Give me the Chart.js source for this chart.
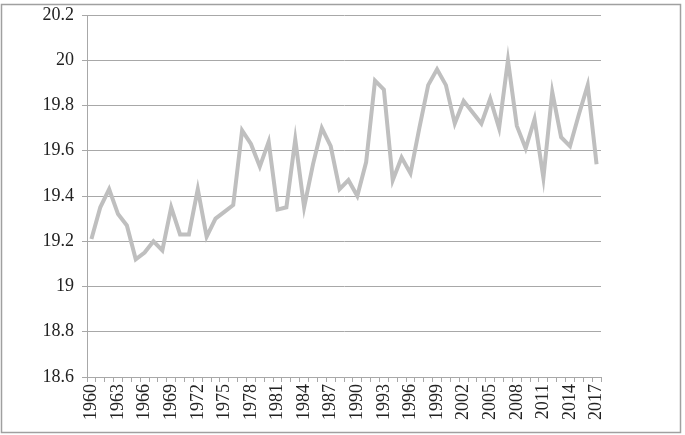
<!DOCTYPE html>
<html>
<head>
<meta charset="utf-8">
<script src="https://cdn.jsdelivr.net/npm/chart.js@4"></script>
<style>
  html, body { margin: 0; padding: 0; background: #fff; }
  #wrap { width: 685px; height: 435px; position: relative; }
</style>
</head>
<body>
<div id="wrap"><canvas id="myChart" width="685" height="435"></canvas></div>
<script>
  // years 1960..2017
  const years = [];
  for (let y = 1960; y <= 2017; y++) years.push(String(y));

  const values = [
    19.21, 19.35, 19.43, 19.32, 19.27, 19.12, 19.15, 19.20, 19.16, 19.35,
    19.23, 19.23, 19.43, 19.22, 19.30, 19.33, 19.36, 19.69, 19.63, 19.53,
    19.64, 19.34, 19.35, 19.65, 19.35, 19.54, 19.70, 19.62, 19.43, 19.47,
    19.40, 19.55, 19.91, 19.87, 19.47, 19.57, 19.50, 19.70, 19.89, 19.96,
    19.89, 19.72, 19.82, 19.77, 19.72, 19.83, 19.70, 20.00, 19.71, 19.61,
    19.74, 19.48, 19.86, 19.66, 19.62, 19.76, 19.89, 19.54
  ];

  const yTicks = [18.6, 18.8, 19, 19.2, 19.4, 19.6, 19.8, 20, 20.2];

  const gridGrey = '#a8a8a8';
  const textColor = '#222';
  const serif = '"Liberation Serif", "DejaVu Serif", serif';

  // outer frame round the whole chart
  const framePlugin = {
    id: 'frame',
    afterDraw(chart) {
      const c = chart.ctx;
      c.save();
      c.strokeStyle = '#a0a0a0';
      c.lineWidth = 1.5;
      c.strokeRect(1.5, 4.5, 679, 428);
      c.restore();
    }
  };

  const ctx = document.getElementById('myChart').getContext('2d');
  const myChart = new Chart(ctx, {
    type: 'line',
    data: {
      labels: years,
      datasets: [{
        data: values,
        borderColor: '#bfbfbf',
        borderWidth: 4,
        pointRadius: 0,
        tension: 0,
        fill: false
      }]
    },
    options: {
      responsive: false,
      animation: false,
      layout: { padding: { top: 15, right: 84, bottom: 0, left: 0 } },
      plugins: { legend: { display: false }, tooltip: { enabled: false } },
      scales: {
        x: {
          offset: true,
          grid: { offset: true, drawOnChartArea: false, color: gridGrey, tickLength: 5 },
          border: { display: true, color: gridGrey },
          ticks: {
            autoSkip: false,
            minRotation: 90,
            maxRotation: 90,
            padding: 2,
            color: textColor,
            font: { family: serif, size: 18 },
            callback: function(value, index) {
              return index % 3 === 0 ? years[index] : '';
            }
          },
          afterFit: function(scale) { scale.height = 58; }
        },
        y: {
          min: 18.6,
          max: 20.2,
          grid: { color: gridGrey, tickLength: 5 },
          border: { display: true, color: gridGrey },
          afterBuildTicks: function(scale) {
            scale.ticks = yTicks.map(v => ({ value: v }));
          },
          ticks: {
            padding: 8,
            color: textColor,
            // small lineHeight so the top label doesn't push the plot down
            font: { family: serif, size: 18, lineHeight: 0.6 },
            callback: function(value) {
              return String(Math.round(value * 10) / 10);
            }
          },
          afterFit: function(scale) { scale.width = 87; }
        }
      }
    },
    plugins: [framePlugin]
  });
</script>
</body>
</html>
